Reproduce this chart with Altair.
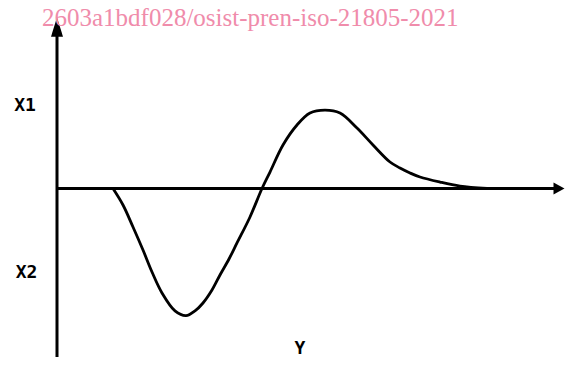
import altair as alt
import pandas as pd

# Signal curve (time units, amplitude units)
curve_t = [11.2, 13.2, 15.2, 17.2, 19.0, 21.0, 23.6, 25.8, 27.6, 29.2, 31.0, 32.6, 34.4,
           36.0, 38.6, 41.0, 42.6, 45.2, 48.0, 50.6, 53.6, 56.6, 60.0, 63.2, 66.6,
           68.6, 70.6, 72.6, 76.6, 80.6, 86.0]
curve_v = [0.0, -0.206, -0.481, -0.769, -1.044, -1.306, -1.53, -1.59, -1.53, -1.431,
           -1.269, -1.081, -0.881, -0.681, -0.356, 0.0, 0.206, 0.544, 0.794, 0.944,
           0.98, 0.944, 0.756, 0.544, 0.331, 0.256, 0.194, 0.144, 0.081, 0.031, 0.0]

# Axis extents
x_axis_start, x_axis_end, x_axis_tip = 0.0, 100.2, 101.5
y_axis_bottom, y_axis_top, y_axis_tip = -2.106, 2.0, 2.14

# Labels
label_text = ["X1", "X2", "Y"]
label_x = [-6.4, -6.1, 48.6]
label_y = [1.03, -1.055, -2.0]

watermark_text = ["2603a1bdf028/osist-pren-iso-21805-2021"]
watermark_x = [-3.0]
watermark_y = [2.03]

X_DOMAIN = [-9.8, 101.6]
Y_DOMAIN = [-2.10625, 2.25625]

xs = alt.Scale(domain=X_DOMAIN, nice=False, zero=False)
ys = alt.Scale(domain=Y_DOMAIN, nice=False, zero=False)

def X(field):
    return alt.X(field, type="quantitative", scale=xs, axis=None)

def Y(field):
    return alt.Y(field, type="quantitative", scale=ys, axis=None)

curve_df = pd.DataFrame({"t": curve_t, "v": curve_v, "o": list(range(len(curve_t)))})
curve = alt.Chart(curve_df).mark_line(color="black", strokeWidth=2.8, interpolate="catmull-rom").encode(
    x=X("t"), y=Y("v"), order="o:Q"
)

h_axis = alt.Chart(pd.DataFrame({"x1": [x_axis_start], "x2": [x_axis_end], "y": [0.0]})).mark_rule(
    color="black", strokeWidth=3
).encode(x=X("x1"), x2="x2", y=Y("y"))

v_axis = alt.Chart(pd.DataFrame({"y1": [y_axis_bottom], "y2": [y_axis_top], "x": [0.0]})).mark_rule(
    color="black", strokeWidth=3
).encode(y=Y("y1"), y2="y2", x=X("x"))

h_arrow = alt.Chart(pd.DataFrame({"x": [x_axis_tip], "y": [0.0]})).mark_point(
    shape="M0,0 L-1.1,-0.6 L-1.1,0.6 Z", size=400, filled=True, color="black", opacity=1
).encode(x=X("x"), y=Y("y"))

v_arrow = alt.Chart(pd.DataFrame({"x": [0.0], "y": [y_axis_tip]})).mark_point(
    shape="M0,0 L-0.6,1.95 L0.6,1.95 Z", size=400, filled=True, color="black", opacity=1
).encode(x=X("x"), y=Y("y"))

labels = alt.Chart(pd.DataFrame({"t": label_text, "x": label_x, "y": label_y})).mark_text(
    font="DejaVu Sans Mono", fontWeight="bold", fontSize=18, color="black",
    align="center", baseline="middle"
).encode(x=X("x"), y=Y("y"), text="t:N")

watermark = alt.Chart(pd.DataFrame({"t": watermark_text, "x": watermark_x, "y": watermark_y})).mark_text(
    font="Liberation Serif", fontSize=25, color="#f08cab",
    align="left", baseline="alphabetic"
).encode(x=X("x"), y=Y("y"), text="t:N")

chart = alt.layer(h_axis, v_axis, curve, h_arrow, v_arrow, labels, watermark).properties(
    width=557, height=349,
    autosize=alt.AutoSizeParams(type="none"),
    padding=0,
).configure_view(stroke=None)

chart.save("out.html", embed_options={"renderer": "svg", "actions": False})
